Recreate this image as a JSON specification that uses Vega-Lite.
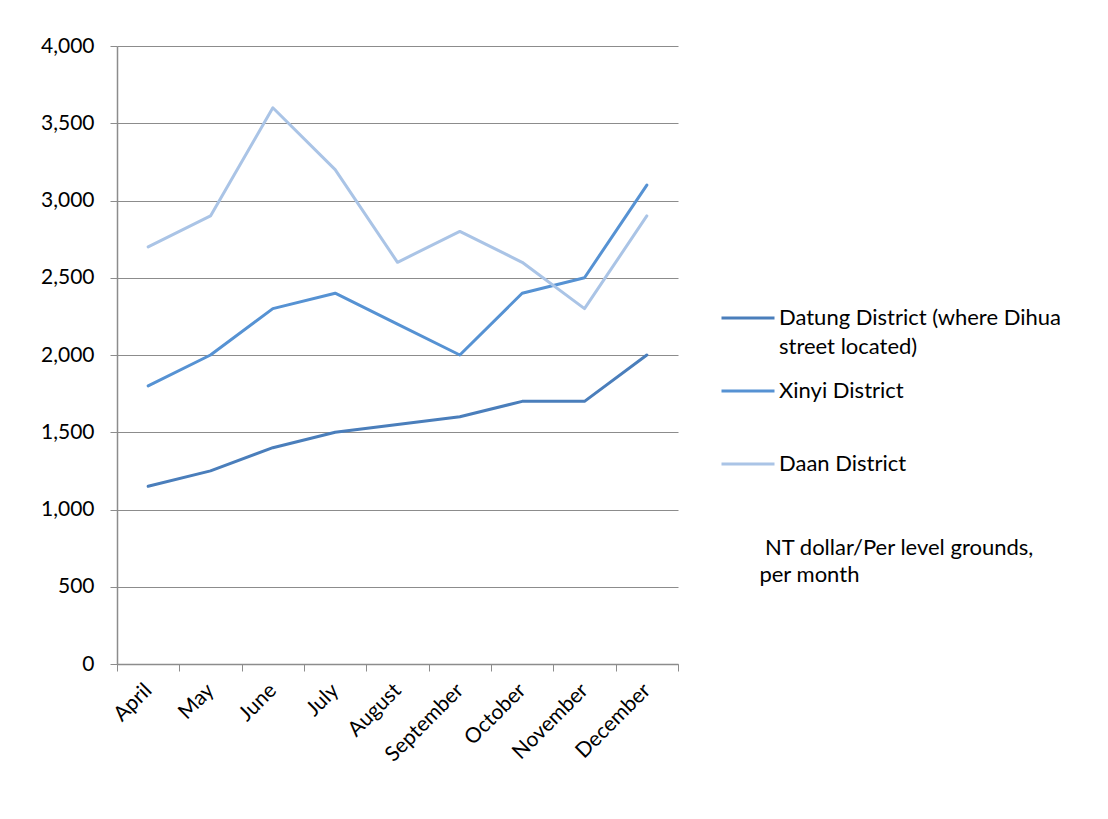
{
  "$schema": "https://vega.github.io/schema/vega-lite/v6.json",
  "width": 561,
  "height": 618,
  "autosize": {"type": "none"},
  "padding": {"left": 117, "top": 46, "right": 430, "bottom": 155},
  "background": "white",
  "config": {
    "view": {"stroke": null},
    "font": "Lato",
    "axis": {"labelFont": "Lato", "labelFontSize": 21, "labelColor": "black", "domainColor": "#8C8C8C", "tickColor": "#8C8C8C", "gridColor": "#8C8C8C", "titleFont": "Lato"},
    "legend": {"labelFont": "Lato", "titleFont": "Lato"}
  },
  "data": {
    "values": [
      {"month": "April", "district": "Datung District (where Dihua street located)", "value": 1150},
      {"month": "May", "district": "Datung District (where Dihua street located)", "value": 1250},
      {"month": "June", "district": "Datung District (where Dihua street located)", "value": 1400},
      {"month": "July", "district": "Datung District (where Dihua street located)", "value": 1500},
      {"month": "August", "district": "Datung District (where Dihua street located)", "value": 1550},
      {"month": "September", "district": "Datung District (where Dihua street located)", "value": 1600},
      {"month": "October", "district": "Datung District (where Dihua street located)", "value": 1700},
      {"month": "November", "district": "Datung District (where Dihua street located)", "value": 1700},
      {"month": "December", "district": "Datung District (where Dihua street located)", "value": 2000},
      {"month": "April", "district": "Xinyi District", "value": 1800},
      {"month": "May", "district": "Xinyi District", "value": 2000},
      {"month": "June", "district": "Xinyi District", "value": 2300},
      {"month": "July", "district": "Xinyi District", "value": 2400},
      {"month": "August", "district": "Xinyi District", "value": 2200},
      {"month": "September", "district": "Xinyi District", "value": 2000},
      {"month": "October", "district": "Xinyi District", "value": 2400},
      {"month": "November", "district": "Xinyi District", "value": 2500},
      {"month": "December", "district": "Xinyi District", "value": 3100},
      {"month": "April", "district": "Daan District", "value": 2700},
      {"month": "May", "district": "Daan District", "value": 2900},
      {"month": "June", "district": "Daan District", "value": 3600},
      {"month": "July", "district": "Daan District", "value": 3200},
      {"month": "August", "district": "Daan District", "value": 2600},
      {"month": "September", "district": "Daan District", "value": 2800},
      {"month": "October", "district": "Daan District", "value": 2600},
      {"month": "November", "district": "Daan District", "value": 2300},
      {"month": "December", "district": "Daan District", "value": 2900}
    ]
  },
  "mark": {"type": "line", "strokeWidth": 3, "strokeJoin": "round", "strokeCap": "round"},
  "encoding": {
    "x": {
      "field": "month",
      "type": "ordinal",
      "sort": ["April", "May", "June", "July", "August", "September", "October", "November", "December"],
      "scale": {"type": "band", "paddingInner": 0, "paddingOuter": 0},
      "axis": {"title": null, "labelAngle": -45, "labelAlign": "right", "labelBaseline": "middle", "tickBand": "extent", "tickSize": 7, "labelPadding": 16, "grid": false, "domainWidth": 1.5}
    },
    "y": {
      "field": "value",
      "type": "quantitative",
      "scale": {"domain": [0, 4000], "nice": false},
      "axis": {"title": null, "values": [0, 500, 1000, 1500, 2000, 2500, 3000, 3500, 4000], "format": ",d", "tickSize": 7, "labelPadding": 16, "grid": true, "gridWidth": 1, "domainWidth": 1.5}
    },
    "color": {
      "field": "district",
      "type": "nominal",
      "sort": ["Datung District (where Dihua street located)", "Xinyi District", "Daan District"],
      "scale": {"domain": ["Datung District (where Dihua street located)", "Xinyi District", "Daan District"], "range": ["#4A7EBB", "#5692D3", "#AAC4E6"]},
      "legend": {
        "orient": "none",
        "legendX": 603,
        "legendY": 244,
        "symbolType": "stroke",
        "symbolSize": 2809,
        "symbolStrokeWidth": 3,
        "labelFontSize": 22,
        "labelColor": "black",
        "labelLimit": 400,
        "labelOffset": 3,
        "rowPadding": 5,
        "gridAlign": "all",
        "labelExpr": "datum.label == 'Datung District (where Dihua street located)' ? ['Datung District (where Dihua', 'street located)'] : datum.label",
        "encode": {"labels": {"update": {"lineHeight": {"value": 29}}}},
        "title": ["\u200b\u00a0\u00a0\u00a0\u00a0\u00a0\u00a0\u00a0\u00a0NT dollar/Per level grounds,", "\u200b\u00a0\u00a0\u00a0\u00a0\u00a0\u00a0\u00a0per month"],
        "titleOrient": "bottom",
        "titleAlign": "left",
        "titleFontSize": 22,
        "titleFontWeight": "normal",
        "titleColor": "black",
        "titleLimit": 500,
        "titleLineHeight": 27,
        "titlePadding": 63
      }
    }
  }
}
